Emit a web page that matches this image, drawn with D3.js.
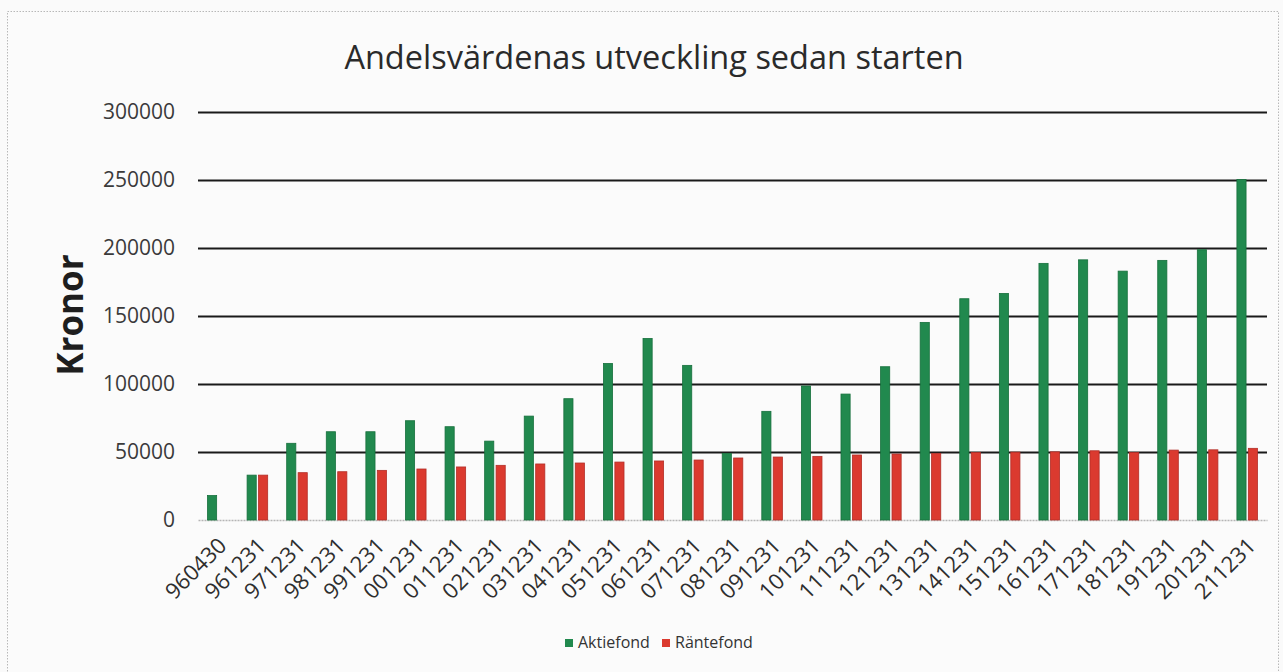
<!DOCTYPE html>
<html>
<head>
<meta charset="utf-8">
<script src="https://cdn.jsdelivr.net/npm/d3@7"></script>
<style>
    html, body { margin: 0; padding: 0; background: #fafafa; }
    svg { display: block; }
</style>
</head>
<body>
<svg id="chart-svg" width="1283" height="672"></svg>
<script>
// Andelsvärden per datum (kronor)
const categories = ["960430", "961231", "971231", "981231", "991231", "001231", "011231", "021231", "031231",
    "041231", "051231", "061231", "071231", "081231", "091231", "101231", "111231", "121231", "131231",
    "141231", "151231", "161231", "171231", "181231", "191231", "201231", "211231"]
const seriesNames = ["Aktiefond", "Räntefond"]
const aktiefond = [18000, 33000, 56400, 64900, 64900, 73000, 68600, 58000, 76400, 89200, 115100, 133500,
    113700, 49000, 79900, 98500, 92600, 112700, 145300, 162700, 166600, 188700, 191300, 183000, 190900,
    198700, 250400]
const rantefond = [0, 33000, 34800, 35500, 36500, 37500, 39000, 40200, 41200, 41900, 42600, 43400, 44100,
    45600, 46300, 46800, 47800, 48500, 49000, 49700, 49900, 50100, 50900, 49700, 51400, 51600, 52700]
const yTicks = [0, 50000, 100000, 150000, 200000, 250000, 300000]

const colors = { "Aktiefond": "#21894e", "Räntefond": "#db3a2f" }
const strokes = { "Aktiefond": "#17703d", "Räntefond": "#b22e27" }
const font = "'Open Sans', 'DejaVu Sans', sans-serif"

const svg = d3.select("#chart-svg")
const plot = { left: 198, right: 1267, top: 112, bottom: 520 }

// ytterram (inskannad)
svg.append("rect")
    .attr("x", 7.5).attr("y", 11.5)
    .attr("width", 1271).attr("height", 700)
    .attr("fill", "#fbfbfb")
    .attr("stroke", "#b8b8b8")
    .attr("stroke-dasharray", "1.5,1.5")

const table = categories.map((c, i) => ({ cat: c, Aktiefond: aktiefond[i], "Räntefond": rantefond[i] }))

const x0 = d3.scaleBand()
    .domain(categories)
    .range([plot.left, plot.right])
    .paddingInner(0.48)
    .paddingOuter(0.24)
const x1 = d3.scaleBand()
    .domain(seriesNames)
    .range([0, x0.bandwidth()])
    .paddingInner(0.2)
const y = d3.scaleLinear()
    .domain([0, 300000])
    .range([plot.bottom, plot.top])

// stödlinjer + y-etiketter
const yAxis = svg.append("g")
    .attr("transform", `translate(${plot.left},0)`)
    .call(d3.axisLeft(y).tickValues(yTicks).tickSize(0).tickPadding(23).tickFormat(d3.format("d")))
yAxis.select(".domain").remove()
yAxis.selectAll("text")
    .attr("font-family", font)
    .attr("font-size", 21)
    .attr("fill", "#3a3a3a")
yAxis.selectAll(".tick")
    .filter(d => d > 0)
    .append("line")
    .attr("x1", 0)
    .attr("x2", plot.right - plot.left)
    .attr("stroke", "#1a1a1a")
    .attr("stroke-width", 1.8)

// x-axel
const xAxis = svg.append("g")
    .attr("transform", `translate(0,${plot.bottom})`)
    .call(d3.axisBottom(x0).tickSize(0).tickPadding(0))
xAxis.select(".domain")
    .attr("stroke", "#b5b5b5")
    .attr("stroke-width", 1.5)
    .attr("stroke-dasharray", "2,1")
xAxis.selectAll("text")
    .attr("font-family", font)
    .attr("font-size", 22)
    .attr("fill", "#2e2e2e")
    .attr("text-anchor", "end")
    .attr("dy", 0)
    .attr("transform", "translate(10,27) rotate(-45)")

// staplar
const group = svg.selectAll(".cat-group")
    .data(table)
    .enter()
    .append("g")
    .attr("class", "cat-group")
    .attr("transform", d => `translate(${x0(d.cat)},0)`)
group.selectAll("rect")
    .data(d => seriesNames.map(k => ({ key: k, value: d[k] })))
    .enter()
    .append("rect")
    .attr("x", d => x1(d.key))
    .attr("y", d => y(d.value))
    .attr("width", x1.bandwidth())
    .attr("height", d => y(0) - y(d.value))
    .attr("fill", d => colors[d.key])
    .attr("stroke", d => d.value > 0 ? strokes[d.key] : "none")
    .attr("stroke-width", 0.8)

// titel
svg.append("text")
    .attr("x", 654)
    .attr("y", 69)
    .attr("text-anchor", "middle")
    .attr("font-family", font)
    .attr("font-size", 32.5)
    .attr("fill", "#2a2a2a")
    .text("Andelsvärdenas utveckling sedan starten")

// y-axelns rubrik
svg.append("text")
    .attr("transform", "translate(83,315) rotate(-90)")
    .attr("text-anchor", "middle")
    .attr("font-family", font)
    .attr("font-size", 35)
    .attr("font-weight", "bold")
    .attr("fill", "#1e1e1e")
    .text("Kronor")

// förklaring
const legendX = [565, 662]
const legend = svg.selectAll(".legend-item")
    .data(seriesNames)
    .enter()
    .append("g")
    .attr("class", "legend-item")
    .attr("transform", (d, i) => `translate(${legendX[i]},639)`)
legend.append("rect")
    .attr("width", 8)
    .attr("height", 8)
    .attr("fill", d => colors[d])
legend.append("text")
    .attr("x", 13)
    .attr("y", 9)
    .attr("font-family", font)
    .attr("font-size", 16)
    .attr("fill", "#333")
    .text(d => d)
</script>
</body>
</html>
